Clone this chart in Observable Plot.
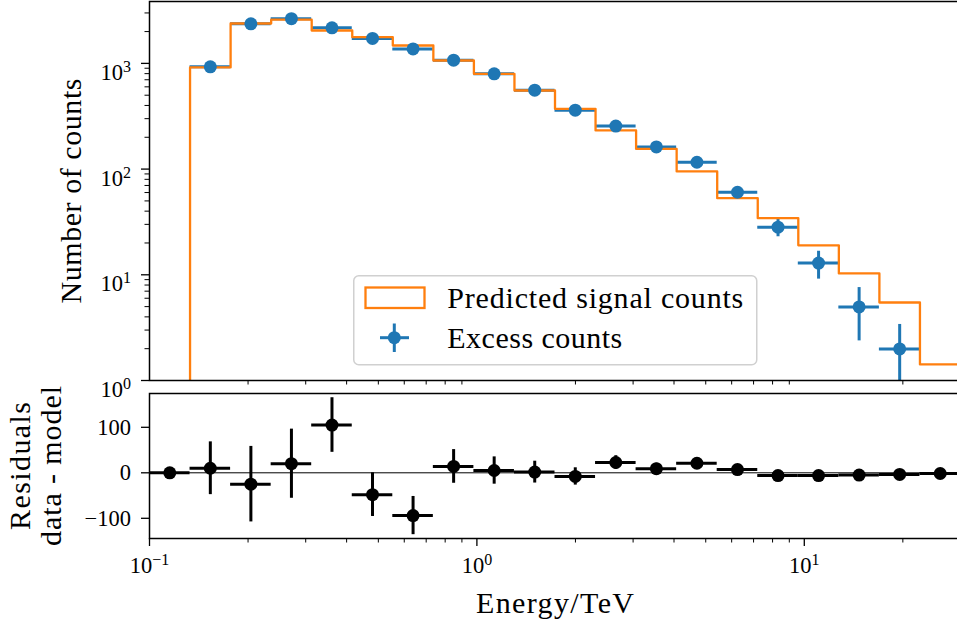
<!DOCTYPE html>
<html>
<head>
<meta charset="utf-8">
<script src="https://cdn.jsdelivr.net/npm/d3@7"></script>
<script src="https://cdn.jsdelivr.net/npm/@observablehq/plot@0.6"></script>
<style>
html, body { margin: 0; padding: 0; background: #fff; overflow: hidden; }
#wrap { position: relative; width: 957px; height: 625px; overflow: hidden; background: #fff; }
#wrap svg { position: absolute; left: 0; top: 0; max-width: none !important; background: transparent !important; overflow: visible; }
</style>
</head>
<body>
<div id="wrap"></div>
<script>
// ---------------- data ----------------
const energyEdges = [0.1, 0.1330, 0.1769, 0.2353, 0.3129, 0.4162, 0.5535, 0.7362, 0.9791, 1.3023,
                     1.7321, 2.3036, 3.0639, 4.0750, 5.4199, 7.2085, 9.5874, 12.751, 16.959, 22.556, 30.0];
const predictedCounts = [0, 915, 2385, 2590, 2048, 1770, 1477, 1065, 796, 554,
                         372, 232, 155, 95, 53.1, 34.3, 19.0, 10.3, 5.47, 1.42];
const excessCounts = [0, 927, 2365, 2650, 2168, 1721, 1371, 1072, 796, 558,
                      361, 255, 162, 116, 60.4, 28.2, 12.9, 4.97, 1.99, 0];
const excessErrors = [0, 58, 83, 76, 60, 48, 42, 37, 30, 24,
                      19, 15, 12, 11, 8, 5.3, 3.8, 2.6, 1.4, 1.0];
const residuals = [0, 10, -25, 20, 105, -48, -94, 14, 5, 1.5,
                   -8, 22.6, 9, 21, 7, -6, -6, -5, -3.5, -1.5];
const residualErrors = [0, 58, 83, 76, 60, 48, 42, 37, 30, 24,
                        19, 15, 12, 11, 8, 5.3, 3.8, 2.6, 1.4, 1.0];
const countTicks = [1, 10, 100, 1000];
const countMinorTicks = [2, 3, 4, 5, 6, 7, 8, 9, 20, 30, 40, 50, 60, 70, 80, 90,
                         200, 300, 400, 500, 600, 700, 800, 900, 2000, 3000];
const energyTicks = [0.1, 1, 10];
const energyMinorTicks = [0.2, 0.3, 0.4, 0.5, 0.6, 0.7, 0.8, 0.9, 2, 3, 4, 5, 6, 7, 8, 9, 20];
const residualTicks = [-100, 0, 100];
const legendLabels = ["Predicted signal counts", "Excess counts"];
const labels = {x: "Energy/TeV", yTop: "Number of counts", yBottom: "Residuals\ndata - model"};

// ---------------- styling ----------------
const BLUE = "#1f77b4", ORANGE = "#ff7f0e";
const SERIF = "'Liberation Serif', 'Times New Roman', serif";
const LABEL_SIZE = 30, TICK_SIZE = 22.5;

const bins = predictedCounts.map((p, i) => ({
  lo: energyEdges[i], hi: energyEdges[i + 1],
  center: Math.sqrt(energyEdges[i] * energyEdges[i + 1]),
  pred: p, excess: excessCounts[i], err: excessErrors[i],
  resid: residuals[i], rerr: residualErrors[i]
}));
const shown = bins.filter(d => d.excess > 0);
const stepPts = energyEdges.map((e, i) => ({x: e, y: Math.max(predictedCounts[Math.min(i, predictedCounts.length - 1)], 0.01)}));

const sup = d => "10^" + Math.round(Math.log10(d));
const baseStyle = {fontFamily: SERIF, fontSize: TICK_SIZE + "px", background: "transparent", maxWidth: "none", overflow: "visible", color: "black"};

const topPlot = Plot.plot({
  width: 960, height: 392,
  marginTop: 1, marginBottom: 12, marginLeft: 149, marginRight: 0,
  style: baseStyle,
  x: {type: "log", domain: [0.1, 30], label: null},
  y: {type: "log", domain: [1, 3850], label: null},
  marks: [
    Plot.ruleY(shown, {y: "excess", x1: "lo", x2: "hi", stroke: BLUE, strokeWidth: 3, clip: true}),
    Plot.ruleX(shown, {x: "center", y1: d => Math.max(d.excess - d.err, 0.01), y2: d => d.excess + d.err, stroke: BLUE, strokeWidth: 3, clip: true}),
    Plot.line(stepPts, {x: "x", y: "y", curve: "step-after", stroke: ORANGE, strokeWidth: 2.3, clip: true}),
    Plot.dot(shown, {x: "center", y: "excess", r: 6.5, fill: BLUE, clip: true}),
    Plot.frame({stroke: "black", strokeWidth: 1.5}),
    Plot.axisY(countTicks, {tickSize: 8, tickPadding: 10.5, tickFormat: sup, strokeWidth: 1.3, label: null, fontSize: TICK_SIZE}),
    Plot.axisY(countMinorTicks, {tickSize: 4.5, fill: "none", strokeWidth: 1, label: null}),
    Plot.axisX(energyMinorTicks, {tickSize: 4.5, fill: "none", strokeWidth: 1, label: null}),
    Plot.text([labels.yTop], {text: d => d, frameAnchor: "left", textAnchor: "middle", lineAnchor: "middle", dx: -78.3, rotate: -90, fontSize: LABEL_SIZE})
  ]
});

const bottomPlot = Plot.plot({
  width: 960, height: 625,
  marginTop: 393, marginBottom: 87, marginLeft: 149, marginRight: 0,
  style: baseStyle,
  x: {type: "log", domain: [0.1, 30], label: null},
  y: {domain: [-144.4, 174.3], label: null},
  marks: [
    Plot.ruleY([0], {stroke: "black", strokeWidth: 1}),
    Plot.ruleY(bins, {y: "resid", x1: "lo", x2: "hi", stroke: "black", strokeWidth: 3, clip: true}),
    Plot.ruleX(bins.filter(d => d.rerr > 0), {x: "center", y1: d => d.resid - d.rerr, y2: d => d.resid + d.rerr, stroke: "black", strokeWidth: 3, clip: true}),
    Plot.dot(bins, {x: "center", y: "resid", r: 6.5, fill: "black", clip: true}),
    Plot.frame({stroke: "black", strokeWidth: 1.5}),
    Plot.axisY(residualTicks, {tickSize: 8, tickPadding: 10.5, strokeWidth: 1.3, label: null, fontSize: TICK_SIZE}),
    Plot.axisX(energyTicks, {tickSize: 8, tickPadding: 11, tickFormat: sup, strokeWidth: 1.3, label: null, fontSize: TICK_SIZE}),
    Plot.axisX(energyMinorTicks, {tickSize: 4.5, fill: "none", strokeWidth: 1, label: null}),
    Plot.text([labels.x], {text: d => d, frameAnchor: "bottom", textAnchor: "middle", lineAnchor: "middle", dy: 64.4, fontSize: LABEL_SIZE}),
    Plot.text([labels.yBottom], {text: d => d, frameAnchor: "left", textAnchor: "middle", lineAnchor: "middle", dx: -114, rotate: -90, fontSize: LABEL_SIZE, lineHeight: 1.05})
  ]
});

const wrap = document.getElementById("wrap");
wrap.appendChild(bottomPlot);
wrap.appendChild(topPlot);

// superscript tick labels ("10^3" -> 10 with raised exponent)
function supify(svg, baseDy) {
  d3.select(svg).selectAll("text").each(function () {
    const t = this.textContent;
    const m = t.match(/^(.*)\^(.*)$/);
    if (!m) return;
    const sel = d3.select(this);
    sel.text(null);
    if (baseDy) sel.attr("dy", baseDy);
    sel.append("tspan").text(m[1]);
    sel.append("tspan").attr("dy", -8).attr("font-size", "16px").text(m[2].replace("-", "\u2212"));
  });
}
supify(topPlot, "0.42em");
supify(bottomPlot, null);

// stretch labels slightly to the reference widths (Computer Modern is wider)
function fit(svg, str, len) {
  d3.select(svg).selectAll("text, tspan").filter(function () { return this.textContent === str; })
    .attr("textLength", len).attr("lengthAdjust", "spacing");
}
fit(topPlot, labels.yTop, 225);
fit(bottomPlot, labels.x, 158);
fit(bottomPlot, "Residuals", 128);
fit(bottomPlot, "data - model", 160);

// legend (inside the upper panel)
const leg = d3.select(wrap).append("svg")
  .attr("width", 957).attr("height", 625)
  .style("font-family", SERIF);
leg.append("rect").attr("x", 353.75).attr("y", 275.75).attr("width", 403).attr("height", 89).attr("rx", 5)
  .attr("fill", "white").attr("fill-opacity", 0.8).attr("stroke", "#d0d0d0").attr("stroke-width", 1.5);
leg.append("rect").attr("x", 365.5).attr("y", 287.5).attr("width", 59).attr("height", 20.5)
  .attr("fill", "none").attr("stroke", ORANGE).attr("stroke-width", 2.3);
leg.append("line").attr("x1", 380).attr("x2", 409).attr("y1", 337.7).attr("y2", 337.7).attr("stroke", BLUE).attr("stroke-width", 3);
leg.append("line").attr("x1", 394.3).attr("x2", 394.3).attr("y1", 323.5).attr("y2", 352).attr("stroke", BLUE).attr("stroke-width", 3);
leg.append("circle").attr("cx", 394.3).attr("cy", 337.7).attr("r", 6.5).attr("fill", BLUE);
leg.append("text").attr("x", 447.3).attr("y", 308.3).attr("font-size", LABEL_SIZE)
  .attr("textLength", 296).attr("lengthAdjust", "spacing").text(legendLabels[0]);
leg.append("text").attr("x", 447.3).attr("y", 347.7).attr("font-size", LABEL_SIZE)
  .attr("textLength", 175).attr("lengthAdjust", "spacing").text(legendLabels[1]);
</script>
</body>
</html>
